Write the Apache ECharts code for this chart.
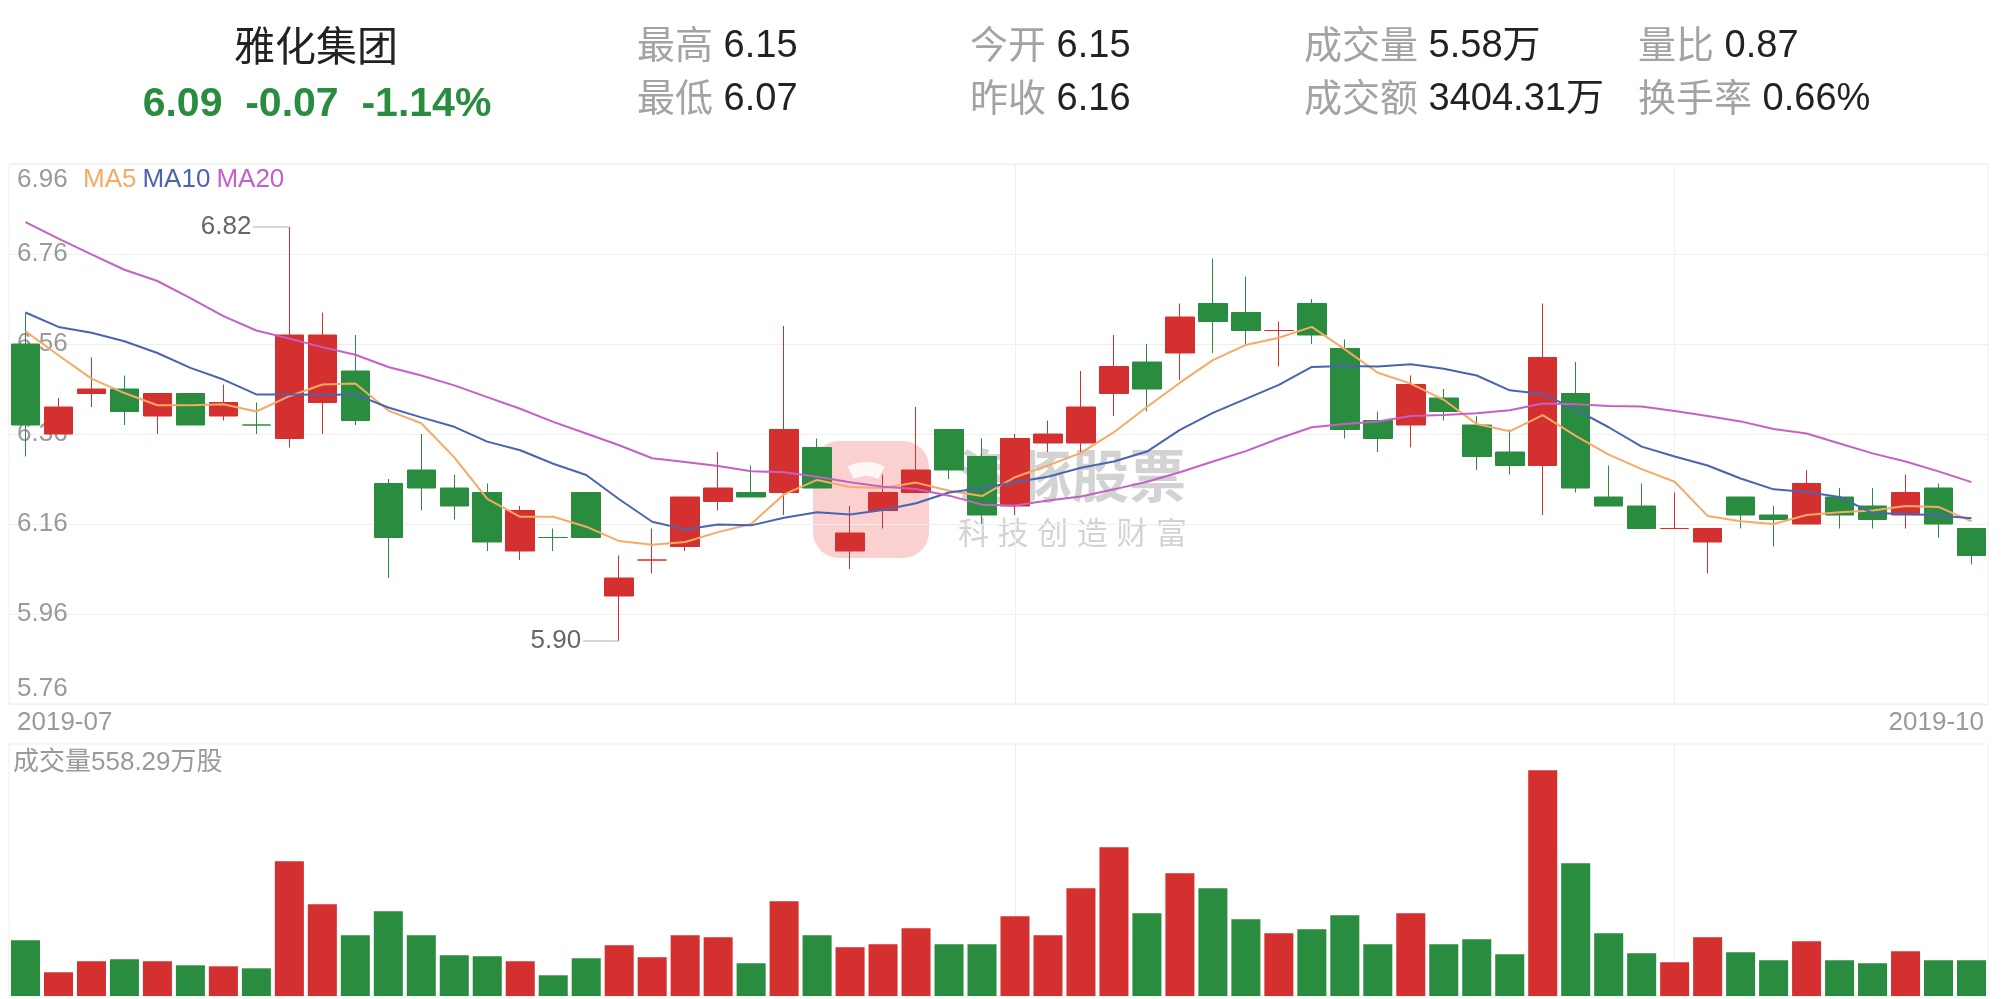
<!DOCTYPE html>
<html><head><meta charset="utf-8">
<script src="https://cdn.jsdelivr.net/npm/echarts@6/dist/echarts.min.js"></script>
<style>html,body{margin:0;padding:0;background:#fff}#c{width:2001px;height:999px}</style>
</head><body><div id="c"></div>
<script>
// ---------- data ----------
const stockName = '雅化集团';
const quote = ['6.09', '-0.07', '-1.14%'];
const infoLabels = [['最高', '最低'], ['今开', '昨收'], ['成交量', '成交额'], ['量比', '换手率']];
const infoValues = [['6.15', '6.07'], ['6.15', '6.16'], ['5.58万', '3404.31万'], ['0.87', '0.66%']];
const xTicks = ['2019-07', '2019-10'];
const priceMin = 5.76, priceMax = 6.96, priceStep = 0.2;
const volumeLabel = '成交量558.29万股';
const volumeMax = 3940;
const legendNames = ['MA5', 'MA10', 'MA20'];
const vLineIdx = [30, 50];

const opens = [6.56, 6.36, 6.45, 6.46, 6.40, 6.45, 6.40, 6.38, 6.35, 6.43,
  6.50, 6.25, 6.28, 6.24, 6.23, 6.10, 6.13, 6.23, 6.00, 6.08,
  6.11, 6.21, 6.23, 6.23, 6.33, 6.10, 6.19, 6.23, 6.37, 6.31,
  6.20, 6.34, 6.34, 6.45, 6.52, 6.54, 6.65, 6.63, 6.59, 6.65,
  6.55, 6.39, 6.38, 6.44, 6.38, 6.32, 6.29, 6.45, 6.22, 6.20,
  6.15, 6.12, 6.22, 6.18, 6.16, 6.22, 6.20, 6.18, 6.24, 6.15];
const closes = [6.38, 6.42, 6.46, 6.41, 6.45, 6.38, 6.43, 6.38, 6.58, 6.58,
  6.39, 6.13, 6.24, 6.20, 6.12, 6.19, 6.13, 6.13, 6.04, 6.08,
  6.22, 6.24, 6.22, 6.37, 6.24, 6.14, 6.23, 6.28, 6.28, 6.18,
  6.35, 6.36, 6.42, 6.51, 6.46, 6.62, 6.61, 6.59, 6.59, 6.58,
  6.37, 6.35, 6.47, 6.41, 6.31, 6.29, 6.53, 6.24, 6.20, 6.15,
  6.15, 6.15, 6.18, 6.17, 6.25, 6.18, 6.17, 6.23, 6.16, 6.09];
const lows = [6.31, 6.36, 6.42, 6.38, 6.36, 6.38, 6.39, 6.36, 6.33, 6.36,
  6.38, 6.04, 6.19, 6.17, 6.10, 6.08, 6.10, 6.13, 5.90, 6.05,
  6.10, 6.19, 6.22, 6.18, 6.24, 6.06, 6.15, 6.23, 6.26, 6.16,
  6.18, 6.32, 6.32, 6.40, 6.41, 6.48, 6.54, 6.56, 6.51, 6.56,
  6.35, 6.32, 6.33, 6.39, 6.28, 6.27, 6.18, 6.23, 6.20, 6.15,
  6.15, 6.05, 6.15, 6.11, 6.16, 6.15, 6.15, 6.15, 6.13, 6.07];
const highs = [6.63, 6.44, 6.53, 6.49, 6.45, 6.45, 6.47, 6.43, 6.82, 6.63,
  6.58, 6.26, 6.36, 6.27, 6.25, 6.20, 6.15, 6.23, 6.09, 6.15,
  6.22, 6.32, 6.29, 6.60, 6.35, 6.20, 6.27, 6.42, 6.37, 6.35,
  6.36, 6.39, 6.50, 6.58, 6.56, 6.65, 6.75, 6.71, 6.61, 6.66,
  6.57, 6.41, 6.49, 6.46, 6.40, 6.37, 6.65, 6.52, 6.29, 6.25,
  6.23, 6.15, 6.22, 6.20, 6.28, 6.24, 6.24, 6.27, 6.25, 6.15];
const ma5 = [6.588, 6.535, 6.483, 6.451, 6.424, 6.424, 6.426, 6.410, 6.444, 6.470,
  6.472, 6.412, 6.384, 6.308, 6.216, 6.176, 6.176, 6.154, 6.122, 6.114,
  6.120, 6.142, 6.160, 6.226, 6.258, 6.242, 6.240, 6.252, 6.234, 6.222,
  6.264, 6.290, 6.318, 6.364, 6.420, 6.474, 6.524, 6.558, 6.574, 6.598,
  6.548, 6.496, 6.472, 6.436, 6.382, 6.366, 6.402, 6.356, 6.314, 6.282,
  6.254, 6.178, 6.166, 6.160, 6.180, 6.186, 6.190, 6.200, 6.198, 6.166];
const ma10 = [6.630, 6.598, 6.585, 6.566, 6.540, 6.507, 6.481, 6.448, 6.448, 6.447,
  6.448, 6.419, 6.397, 6.376, 6.343, 6.324, 6.294, 6.269, 6.215, 6.165,
  6.148, 6.159, 6.157, 6.174, 6.186, 6.181, 6.191, 6.206, 6.230, 6.240,
  6.253, 6.265, 6.285, 6.299, 6.321, 6.369, 6.407, 6.438, 6.469, 6.509,
  6.511, 6.510, 6.515, 6.505, 6.490, 6.457, 6.449, 6.414, 6.375, 6.332,
  6.310, 6.290, 6.261, 6.237, 6.231, 6.220, 6.184, 6.183, 6.179, 6.173];
const ma20 = [6.831, 6.794, 6.759, 6.725, 6.700, 6.662, 6.622, 6.590, 6.572, 6.553,
  6.536, 6.509, 6.490, 6.468, 6.442, 6.416, 6.387, 6.361, 6.335, 6.306,
  6.298, 6.289, 6.277, 6.275, 6.265, 6.253, 6.243, 6.238, 6.223, 6.203,
  6.201, 6.212, 6.221, 6.237, 6.254, 6.275, 6.299, 6.322, 6.350, 6.375,
  6.382, 6.388, 6.400, 6.402, 6.406, 6.413, 6.428, 6.426, 6.422, 6.421,
  6.411, 6.400, 6.388, 6.371, 6.361, 6.339, 6.317, 6.299, 6.277, 6.253];
const volumes = [871, 371, 543, 574, 543, 480, 464, 433, 2106, 1434,
  949, 1325, 949, 636, 621, 543, 324, 590, 793, 605,
  949, 918, 511, 1481, 949, 762, 808, 1059, 808, 808,
  1246, 949, 1684, 2325, 1293, 1919, 1684, 1199, 980, 1043,
  1262, 808, 1293, 808, 887, 652, 3530, 2075, 980, 668,
  527, 918, 683, 558, 855, 558, 511, 699, 558, 558.29];

// ---------- style ----------
const RED = '#d4302f', GREEN = '#2a8c3e';
const MA_COLORS = ['#f6aa66', '#4b63b3', '#c460c6'];
const LAT = '"Liberation Sans", "Noto Sans CJK SC", sans-serif';
const CJK = '"Noto Sans CJK SC", "Liberation Sans", sans-serif';
const AXIS_GREY = '#9a9a9a';

const n = opens.length;
const cats = opens.map((_, i) => i);
const candleData = opens.map((o, i) => [o, closes[i], lows[i], highs[i]]);
function sign(i) {
  if (closes[i] > opens[i]) return 1;
  if (closes[i] < opens[i]) return -1;
  return i > 0 ? (closes[i - 1] <= closes[i] ? 1 : -1) : 1;
}
const volData = volumes.map((v, i) => ({ value: v, itemStyle: { color: sign(i) > 0 ? RED : GREEN } }));

// header graphics
const graphic = [];
graphic.push({ type: 'text', x: 316, y: 45, style: { text: stockName, font: '41px ' + CJK, fill: '#222', align: 'center', verticalAlign: 'middle' } });
graphic.push({ type: 'text', x: 317, y: 105, style: { text: quote.join('  '), font: 'bold 41px ' + LAT, fill: GREEN, align: 'center', verticalAlign: 'middle' } });
const colX = [637, 970, 1304, 1638], rowY = [47, 100];
infoLabels.forEach((col, ci) => col.forEach((lab, ri) => {
  graphic.push({ type: 'text', x: colX[ci], y: rowY[ri], style: {
    text: '{l|' + lab + '} {v|' + infoValues[ci][ri] + '}',
    font: '38px ' + LAT, align: 'left', verticalAlign: 'middle',
    rich: { l: { fontSize: 38, fontFamily: CJK, fill: '#a3a3a3', padding: [0, 0, 7, 0] }, v: { fontSize: 38, fontFamily: LAT, fill: '#222' } }
  } });
}));
graphic.push({ type: 'text', x: 13, y: 763, style: { text: volumeLabel, font: '26px ' + LAT, fill: AXIS_GREY, align: 'left', verticalAlign: 'middle' } });
// watermark
graphic.push({ type: 'group', z: 100, silent: true, children: [
  { type: 'rect', shape: { x: 813, y: 441, width: 116, height: 117, r: 26 }, style: { fill: 'rgba(244,110,110,0.32)' } },
  { type: 'arc', shape: { cx: 866, cy: 503, r: 34, startAngle: -0.35 * Math.PI, endAngle: 1.35 * Math.PI, clockwise: false }, style: { stroke: 'rgba(255,255,255,0.85)', lineWidth: 14, fill: null } },
  { type: 'text', x: 958, y: 475, style: { text: '海豚股票', font: 'bold 57px ' + CJK, fill: 'rgba(140,140,140,0.38)', align: 'left', verticalAlign: 'middle' } },
  { type: 'text', x: 958, y: 535, style: { text: '科 技 创 造 财 富', font: '31px ' + LAT, fill: 'rgba(140,140,140,0.38)', align: 'left', verticalAlign: 'middle' } }
] });

const chart = echarts.init(document.getElementById('c'), null, { renderer: 'canvas' });
chart.setOption({
  animation: false,
  backgroundColor: '#fff',
  textStyle: { fontFamily: LAT },
  grid: [
    { left: 9, right: 13, top: 164, height: 540, show: true, borderColor: '#efefef', borderWidth: 1 },
    { left: 9, right: 13, top: 744, height: 252, show: true, borderColor: '#efefef', borderWidth: 1 }
  ],
  legend: {
    left: 78, top: 167, padding: 0, itemWidth: 0, itemHeight: 0, itemGap: 1, icon: 'rect', selectedMode: false,
    textStyle: { fontSize: 26, fontFamily: LAT },
    data: legendNames.map((nm, i) => ({ name: nm, textStyle: { color: MA_COLORS[i] } }))
  },
  xAxis: [
    { type: 'category', gridIndex: 0, data: cats, boundaryGap: true,
      axisLine: { show: false }, axisTick: { show: false }, axisLabel: { show: false },
      splitLine: { show: true, interval: (i) => vLineIdx.includes(i), alignWithLabel: true, lineStyle: { color: '#f0f0f0', width: 1 } } },
    { type: 'category', gridIndex: 1, data: cats, boundaryGap: true,
      axisLine: { show: false }, axisTick: { show: false }, axisLabel: { show: false },
      splitLine: { show: true, interval: (i) => vLineIdx.includes(i), alignWithLabel: true, lineStyle: { color: '#f0f0f0', width: 1 } } },
    // date labels at the two ends of the price panel
    { type: 'value', gridIndex: 0, position: 'bottom', min: 0, max: xTicks.length - 1, interval: 1,
      axisLine: { show: false }, axisTick: { show: false }, splitLine: { show: false },
      axisLabel: { show: true, margin: 6, alignMinLabel: 'left', alignMaxLabel: 'right',
        formatter: (v) => (v === 0 ? '{a|' + xTicks[0] + '}' : '{b|' + xTicks[xTicks.length - 1] + '}'),
        rich: { a: { color: AXIS_GREY, fontSize: 26, fontFamily: LAT, padding: [0, 0, 0, 8] },
                b: { color: AXIS_GREY, fontSize: 26, fontFamily: LAT, padding: [0, 4, 0, 0] } } } }
  ],
  yAxis: [
    { type: 'value', gridIndex: 0, min: priceMin, max: priceMax, interval: priceStep, scale: true,
      axisLine: { show: false }, axisTick: { show: false },
      axisLabel: { inside: true, margin: 8, color: AXIS_GREY, fontSize: 26, lineHeight: 31, formatter: (v) => v.toFixed(2),
        verticalAlignMinLabel: 'bottom', verticalAlignMaxLabel: 'top' },
      splitLine: { show: true, lineStyle: { color: '#efefef', width: 1 } } },
    { type: 'value', gridIndex: 1, min: 0, max: volumeMax,
      axisLine: { show: false }, axisTick: { show: false }, axisLabel: { show: false }, splitLine: { show: false } }
  ],
  series: [
    { type: 'candlestick', name: 'K', xAxisIndex: 0, yAxisIndex: 0, data: candleData, barWidth: '88%',
      itemStyle: { color: RED, color0: GREEN, borderColor: RED, borderColor0: GREEN, borderWidth: 1 },
      markPoint: {
        symbol: 'rect', symbolSize: [36, 1], symbolOffset: [-18, 0], silent: true,
        itemStyle: { color: '#aaa' },
        label: { show: true, position: 'left', distance: 2, color: '#666', fontSize: 26, fontFamily: LAT, formatter: (p) => p.value.toFixed(2) },
        data: [{ type: 'max', valueDim: 'highest' }, { type: 'min', valueDim: 'lowest' }]
      } },
    { type: 'line', name: 'MA5', data: ma5, showSymbol: false, symbol: 'none', lineStyle: { width: 2, color: MA_COLORS[0] }, itemStyle: { color: MA_COLORS[0] } },
    { type: 'line', name: 'MA10', data: ma10, showSymbol: false, symbol: 'none', lineStyle: { width: 2, color: MA_COLORS[1] }, itemStyle: { color: MA_COLORS[1] } },
    { type: 'line', name: 'MA20', data: ma20, showSymbol: false, symbol: 'none', lineStyle: { width: 2, color: MA_COLORS[2] }, itemStyle: { color: MA_COLORS[2] } },
    { type: 'bar', name: 'VOL', xAxisIndex: 1, yAxisIndex: 1, data: volData, barWidth: '88%' }
  ],
  graphic: graphic
});
</script></body></html>
